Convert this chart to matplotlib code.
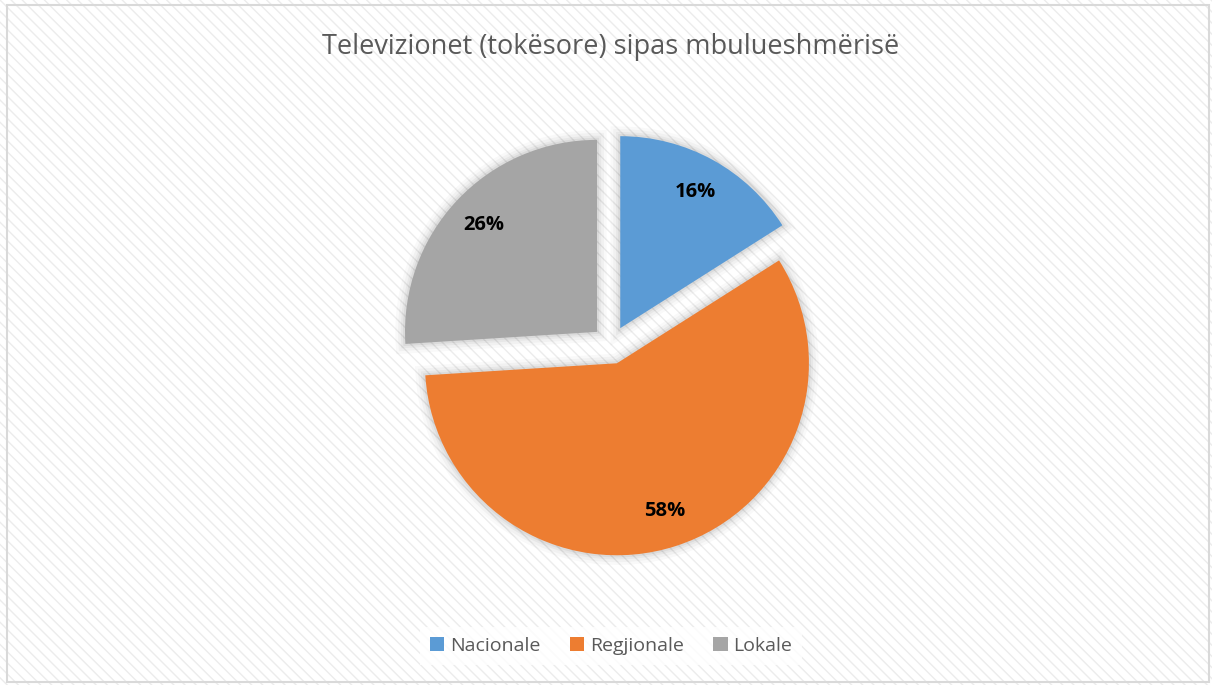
import matplotlib
matplotlib.use("Agg")
import matplotlib.pyplot as plt
from matplotlib.patches import Rectangle

# data
labels = ["Nacionale", "Regjionale", "Lokale"]
shares = [16, 58, 26]
colors = ["#5B9BD5", "#ED7D31", "#A5A5A5"]
title = "Televizionet (tokësore) sipas mbulueshmërisë"

plt.rcParams['font.family'] = ['Open Sans', 'DejaVu Sans']

W, H = 1212, 685
fig = plt.figure(figsize=(W / 100, H / 100), dpi=100)

# background with faint diagonal stripes + frame
bg = fig.add_axes([0, 0, 1, 1], zorder=0)
bg.set_xlim(0, W)
bg.set_ylim(H, 0)
bg.axis("off")
bg.add_patch(Rectangle((0, 0), W, H, facecolor="white", edgecolor="#ececec",
                       hatch="\\\\\\", linewidth=0))
bg.add_patch(Rectangle((7, 5), W - 10, H - 8, facecolor="none",
                       edgecolor="#d9d9d9", linewidth=1.5))

# pie axes: center ~ (611, 345) px, radius ~ 192 px
cx, cy, r, half = 611, 345, 192, 260
ax = fig.add_axes([(cx - half) / W, (H - cy - half) / H, 2 * half / W, 2 * half / H], zorder=1)
ax.axis("off")

explode = [0.1, 0.1, 0.1]

# soft shadow
for lw, a in [(14, 0.025), (10, 0.03), (6, 0.04), (3, 0.05)]:
    ax.pie(shares, explode=explode, startangle=90, counterclock=False,
           colors=["none"] * 3, radius=1,
           wedgeprops=dict(edgecolor=(0, 0, 0, a), linewidth=lw))

wedges, texts, autotexts = ax.pie(
    shares, explode=explode, startangle=90, counterclock=False,
    colors=colors, radius=1, autopct="%d%%", pctdistance=0.81,
    wedgeprops=dict(linewidth=0),
    textprops=dict(fontsize=14.5, fontweight="bold", color="black"))
ax.set_xlim(-half / r, half / r)
ax.set_ylim(-half / r, half / r)

fig.text(cx / W, 1 - 47 / H, title, ha="center", va="center",
         fontsize=19.5, color="#595959")

leg = fig.legend(wedges, labels, loc="center", bbox_to_anchor=(cx / W, 1 - 646 / H),
                 ncol=3, frameon=True, fontsize=14, handlelength=0.75, handleheight=0.75,
                 handletextpad=0.3, columnspacing=1.5, borderpad=0.5)
leg.get_frame().set_facecolor("white")
leg.get_frame().set_edgecolor("none")
leg.get_frame().set_boxstyle("square", pad=0)
for t in leg.get_texts():
    t.set_color("#595959")

fig.savefig("out.png", dpi=100)
